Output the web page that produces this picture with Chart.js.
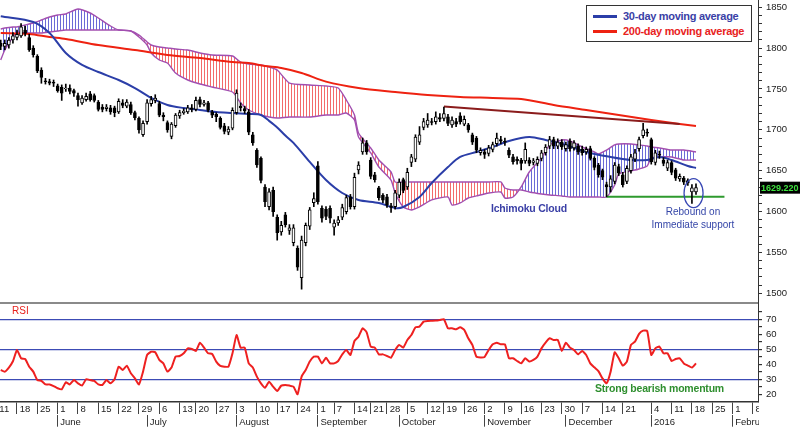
<!DOCTYPE html>
<html lang="en">
<head>
<meta charset="UTF-8" />
<title>Price, Ichimoku Cloud and RSI</title>
<script src="https://cdn.jsdelivr.net/npm/chart.js"></script>
<style>
  body { margin: 0; background: #fff; overflow: hidden; font-family: Arial, "Liberation Sans", sans-serif; }
  .wrap { position: relative; width: 800px; height: 427px; }
  .legend { position: absolute; left: 586px; top: 5px; width: 164px; height: 35px; border: 1px solid #333; background: #fff; }
  .legend .row { position: absolute; left: 0; height: 14px; font-weight: bold; font-size: 11px; letter-spacing: -0.3px; white-space: nowrap; }
  .legend .swatch { position: absolute; left: 6px; width: 24px; height: 2.5px; top: 6px; }
  .legend .txt { position: absolute; left: 36px; top: 0; line-height: 14px; }
  .note { position: absolute; white-space: nowrap; }
</style>
</head>
<body>
<div class="wrap">
  <canvas id="chart" width="800" height="427"></canvas>

  <div class="legend">
    <div class="row" style="top:3px;color:#3a3fa6"><span class="swatch" style="background:#2b3ea8"></span><span class="txt">30-day moving average</span></div>
    <div class="row" style="top:18px;color:#e8221d"><span class="swatch" style="background:#ee2211"></span><span class="txt">200-day moving average</span></div>
  </div>

  <div class="note" style="left:12px;top:305px;font-size:10px;color:#e8221d">RSI</div>
  <div class="note" style="left:491px;top:202px;font-size:10.5px;font-weight:bold;letter-spacing:-0.2px;color:#3a3fa6">Ichimoku Cloud</div>
  <div class="note" style="left:643px;top:206px;width:100px;text-align:center;font-size:10px;line-height:12.5px;color:#3546a8">Rebound on<br>Immediate support</div>
  <div class="note" style="left:595px;top:382px;font-size:10.5px;font-weight:bold;letter-spacing:-0.2px;color:#2f8f2f">Strong bearish momentum</div>
</div>

<script>
// trading day index 0 = Mon 11 May 2015, one step per session
const firstDay = 1;

const openP = [
  1806,1802,1804,1810,1813,1815,1822,1813,1800,1790,
  1773,1760,1759,1758,1754,1752,1750,1751,1748,1742,
  1733,1737,1744,1742,1734,1728,1726,1727,1727,1722,
  1733,1729,1731,1721,1714,1694,1710,1732,1736,1732,
  1718,1709,1692,1705,1717,1721,1722,1727,1725,1737,
  1731,1733,1722,1719,1714,1705,1697,1702,1721,1729,
  1726,1722,1694,1675,1665,1630,1606,1626,1593,1575,
  1596,1577,1562,1555,1519,1562,1582,1611,1656,1604,
  1603,1604,1581,1586,1593,1600,1618,1606,1651,1673,
  1684,1663,1645,1629,1620,1618,1607,1606,1620,1639,
  1630,1660,1664,1685,1703,1706,1710,1710,1715,1714,
  1716,1706,1710,1717,1707,1706,1694,1690,1672,1673,
  1671,1676,1683,1688,1686,1675,1667,1664,1663,1662,
  1663,1660,1659,1665,1672,1680,1688,1680,1685,1677,
  1686,1678,1680,1676,1673,1677,1665,1657,1650,1633,
  1630,1637,1655,1645,1637,1650,1664,1677,1693,1697,
  1688,1660,1670,1663,1653,1660,1651,1640,1641,1638,
  1624,1624
];
const highP = [
  1810,1810,1813,1819,1822,1830,1827,1817,1803,1792,
  1776,1763,1762,1761,1756,1755,1756,1755,1750,1745,
  1742,1745,1747,1744,1736,1731,1731,1730,1729,1738,
  1737,1737,1734,1723,1716,1711,1737,1741,1743,1735,
  1721,1711,1709,1720,1724,1726,1730,1731,1740,1740,
  1736,1735,1724,1721,1716,1708,1704,1727,1749,1733,
  1729,1725,1697,1677,1667,1633,1628,1630,1596,1588,
  1599,1584,1584,1558,1570,1586,1605,1623,1661,1607,
  1606,1607,1590,1594,1609,1620,1621,1647,1661,1690,
  1687,1666,1648,1631,1622,1621,1610,1626,1640,1641,
  1653,1670,1694,1704,1714,1720,1714,1722,1720,1728,
  1719,1716,1714,1721,1717,1708,1696,1692,1678,1676,
  1681,1685,1696,1692,1690,1678,1670,1667,1665,1684,
  1666,1665,1667,1675,1682,1692,1691,1689,1688,1685,
  1689,1687,1683,1680,1679,1680,1667,1659,1652,1636,
  1644,1660,1658,1648,1656,1670,1676,1691,1708,1701,
  1690,1675,1674,1666,1663,1662,1653,1646,1643,1640,
  1633,1634
];
const lowP = [
  1798,1798,1800,1806,1810,1813,1815,1796,1789,1770,
  1757,1756,1755,1753,1746,1736,1747,1744,1741,1729,
  1731,1735,1735,1734,1723,1722,1723,1719,1716,1720,
  1727,1727,1719,1712,1696,1692,1707,1729,1733,1716,
  1711,1697,1689,1703,1714,1719,1720,1722,1723,1728,
  1729,1722,1715,1710,1701,1695,1694,1700,1719,1723,
  1720,1694,1681,1654,1635,1606,1602,1594,1565,1571,
  1581,1572,1558,1528,1505,1558,1578,1606,1609,1587,
  1590,1586,1571,1583,1590,1597,1603,1603,1646,1670,
  1670,1640,1636,1614,1611,1605,1599,1603,1617,1623,
  1627,1655,1661,1682,1700,1703,1706,1707,1710,1711,
  1705,1703,1704,1707,1705,1697,1682,1672,1669,1665,
  1668,1673,1680,1683,1681,1666,1658,1658,1651,1659,
  1656,1657,1656,1662,1669,1677,1677,1677,1676,1674,
  1674,1675,1670,1669,1670,1663,1651,1642,1639,1618,
  1624,1634,1644,1630,1634,1647,1661,1674,1690,1692,
  1658,1657,1665,1656,1650,1645,1638,1637,1633,1632,
  1610,1621
];
const closeP = [
  1802,1806,1810,1815,1817,1826,1818,1798,1792,1772,
  1764,1759,1757,1757,1748,1745,1751,1747,1745,1737,
  1739,1741,1737,1736,1725,1725,1728,1722,1721,1735,
  1730,1734,1721,1715,1700,1708,1733,1737,1739,1718,
  1716,1700,1707,1718,1721,1723,1727,1725,1736,1731,
  1733,1724,1718,1716,1703,1698,1701,1724,1745,1727,
  1723,1697,1684,1657,1638,1612,1624,1600,1574,1583,
  1584,1580,1580,1532,1565,1583,1602,1616,1612,1592,
  1594,1592,1586,1590,1605,1617,1606,1642,1657,1684,
  1673,1643,1639,1617,1614,1608,1605,1623,1636,1626,
  1648,1667,1691,1694,1710,1712,1709,1716,1713,1720,
  1708,1712,1707,1710,1713,1700,1685,1675,1675,1670,
  1678,1682,1690,1686,1685,1669,1661,1662,1659,1676,
  1659,1662,1664,1672,1679,1688,1680,1685,1679,1682,
  1677,1684,1673,1672,1676,1665,1654,1645,1642,1630,
  1640,1657,1647,1633,1653,1667,1672,1688,1700,1696,
  1661,1672,1669,1659,1660,1648,1641,1643,1636,1635,
  1629,1629.22
];

const rsi = [
  36.2,35.1,37.8,42,49.5,44,43.5,38.4,35.1,29.5,
  28.9,26.6,26.6,25.5,24,23.3,28,26.6,29.5,27.3,
  25.8,30,29.5,28.9,26.6,26.2,29.5,27.3,30,38.4,
  36.2,39.1,34,30.6,26.6,35.1,46.2,48.4,48,42.9,
  40.6,35.1,37.8,45.1,45.5,47.3,50.6,50.2,48.9,54.4,
  51.1,47.3,46.9,41.8,38.9,38.4,38.4,47.3,59.5,51.1,
  51.1,40.6,37.8,31.8,27.3,24.4,28.4,25.1,22.2,25.8,
  26.2,25.8,25.1,20,31.8,36.2,41.8,45.1,45.1,40.6,
  44.4,40.6,40.6,42.2,46.6,49.5,46.2,55.5,58.4,64,
  61.3,51.8,51.1,46.6,46.6,45.5,44.4,49.5,52.9,51.1,
  56.2,59.5,64.6,65.1,68.4,68.9,69,69.1,69.5,70,
  64,64,63.3,64.6,62.9,57.3,52.9,45.1,44.6,44.9,
  49.5,53.3,54.4,53.3,53.3,44,44,42.2,40.6,44,
  41.8,42.9,45.1,50.6,54.4,57.3,56.2,56.2,48.9,54.4,
  51.1,49.5,46.6,48.9,46.2,40.6,38,35.5,30.6,27.3,
  35.1,48,44,39.1,41.8,52.9,55.1,60.2,62.4,62.2,
  46.2,50.6,51.8,47.3,47.3,42.2,43.5,44,40.6,39.1,
  37.8,40.6
];

const ma30Idx = [1,9,13,17,21,25,30,34,38,42,46,50,54,58,62,65,67,69,71,73,77,81,85,89,94,98,100,104,107,111,114,118,122,126,131,135,140,145,151,156,160,163,166,170,172];
const ma30Val = [1839,1832,1818.5,1794,1779.4,1770.8,1761,1751.2,1739,1730.4,1726.7,1724.3,1721.8,1720.6,1719.4,1718.2,1711,1703,1693,1684,1660.7,1638.6,1622.7,1614.2,1610.5,1604.4,1605.6,1617.8,1635,1654.5,1666.8,1672.9,1679,1686.4,1691.3,1687.6,1681.5,1672.9,1666.8,1663.1,1663.1,1666.8,1663.1,1655.8,1653.3];

const ma200Idx = [1,8,13,17,25,34,42,50,58,62,66,70,75,81,89,98,106,114,122,129,137,145,153,161,168,172];
const ma200Val = [1818.5,1817.3,1813.6,1811.2,1803.8,1797.7,1791.6,1787.9,1783,1781.8,1778.1,1775.7,1769.6,1759,1751.2,1746.3,1742.6,1740.2,1739,1737.7,1730.4,1724.3,1718.2,1712.1,1707.2,1704.7];

const cloudIdx = [1,2,4,5,7,9,11,13,15,17,20,23,25,28,30,33,35,37,38,40,42,44,47,50,53,58,60,62,65,67,69,72,77,81,84,86,88,89,92,94,97,98,100,102,104,107,111,112,114,116,118,121,124,125,127,129,131,134,136,139,141,144,147,148,150,152,153,156,158,160,161,163,166,169,172];
const spanA = [1823.4,1824.6,1825.9,1825.9,1828.3,1830.8,1834.4,1838.1,1840.5,1841.8,1847.9,1843.0,1836.9,1827.1,1822.2,1821.0,1813.6,1803.8,1794.1,1785.5,1781.8,1769.6,1761.0,1756.1,1752.4,1746.3,1732.9,1724.3,1718.2,1715.7,1714.5,1715.7,1715.7,1718.2,1718.2,1720.6,1712.1,1691.3,1671.7,1654.5,1638.6,1622.7,1605.6,1601.9,1605.6,1614.2,1617.8,1608.0,1610.5,1616.6,1619.1,1622.7,1623.9,1616.6,1617.8,1630.1,1648.4,1665.6,1681.5,1687.6,1686.4,1679.0,1672.9,1670.4,1675.3,1681.5,1682.7,1682.7,1681.5,1680.2,1679.0,1677.8,1675.3,1675.3,1672.9];
const spanB = [1785.5,1797.7,1813.6,1819.7,1818.5,1818.5,1818.5,1819.7,1821.0,1822.2,1822.2,1822.2,1822.2,1822.2,1822.2,1821.0,1816.1,1807.5,1803.8,1801.4,1800.2,1798.9,1797.7,1794.1,1791.6,1790.4,1783.0,1780.6,1779.4,1776.9,1773.2,1757.3,1754.9,1753.7,1751.2,1736.5,1718.2,1696.1,1677.8,1663.1,1648.4,1636.2,1636.2,1636.2,1636.2,1636.2,1636.2,1636.2,1636.2,1636.2,1636.2,1636.2,1636.2,1628.8,1626.4,1626.4,1623.9,1621.5,1620.3,1619.1,1617.8,1617.8,1617.8,1617.8,1617.8,1632.5,1646.0,1649.6,1652.1,1655.8,1665.6,1666.8,1666.8,1663.1,1663.1];

const trendIdx = [110, 168];
const trendVal = [1728.5, 1707];
const supportIdx = [150, 179];
const supportVal = [1618.2, 1618.2];
const reboundAt = [171.4, 1622.5];

// axis labels
const weekIdx = [0,5,10,15,20,25,30,35,40,45,49,54,59,64,69,74,79,83,88,92,96,101,106,110,115,120,125,129,134,139,144,149,154,161,166,171,176,181,186];
const weekLbl = ['11','18','25','1','8','15','22','29','6','13','20','27','3','10','17','24','1','7','14','21','28','5','12','19','26','2','9','16','23','30','7','14','21','4','11','18','25','1','8'];
const monthIdx = [15,37,59,79,99,120,140,161,181];
const monthLbl = ['June','July','August','September','October','November','December','2016','February'];
const priceTicks = [];
for (let v = 1500; v <= 1850; v += 10) priceTicks.push(v);
const rsiTicks = [20,25,30,35,40,45,50,55,60,65,70,75];

const X_MIN = 0.82, X_MAX = 187.25;
const lastPrice = closeP[closeP.length - 1];

const FONT = 'Arial, "Liberation Sans", sans-serif';
Chart.defaults.font.family = FONT;

function hatch(color) {
  const c = document.createElement('canvas');
  c.width = 3; c.height = 4;
  const g = c.getContext('2d');
  g.fillStyle = color;
  g.fillRect(0, 0, 1, 4);
  return g.createPattern(c, 'repeat');
}
const blueHatch = hatch('rgba(70,70,205,0.8)');
const redHatch = hatch('rgba(240,70,70,0.8)');

const pts = (xs, ys) => xs.map((x, k) => ({x: x, y: ys[k]}));

const panelDecor = {
  id: 'panelDecor',
  afterDraw(chart) {
    const {ctx, chartArea} = chart;
    const x = chart.scales.x, y = chart.scales.y, yr = chart.scales.yr;
    ctx.save();
    // date strip stops at the right edge of the plot
    ctx.fillStyle = '#fff';
    ctx.fillRect(chartArea.right + 1, chartArea.bottom + 1, chart.width - chartArea.right, chart.height - chartArea.bottom);
    // grey separator between the panels
    ctx.strokeStyle = '#8a8a8a';
    ctx.lineWidth = 2;
    ctx.beginPath();
    ctx.moveTo(chartArea.left, yr.top + 1);
    ctx.lineTo(chartArea.right, yr.top + 1);
    ctx.stroke();
    // circle round the rebound
    ctx.strokeStyle = '#3a49b5';
    ctx.lineWidth = 1.3;
    ctx.beginPath();
    ctx.ellipse(x.getPixelForValue(reboundAt[0]), y.getPixelForValue(reboundAt[1]), 9.5, 14.5, 0, 0, Math.PI * 2);
    ctx.stroke();
    // last price tag
    const py = y.getPixelForValue(lastPrice);
    ctx.fillStyle = '#000';
    ctx.fillRect(chartArea.right + 2, py - 6, chart.width - chartArea.right - 2, 12);
    ctx.fillStyle = '#3fe03f';
    ctx.font = 'bold 9px ' + FONT;
    ctx.textBaseline = 'middle';
    ctx.textAlign = 'left';
    ctx.fillText(lastPrice.toFixed(3), chartArea.right + 3, py + 0.5);
    ctx.restore();
  }
};

new Chart(document.getElementById('chart'), {
  type: 'line',
  data: {
    datasets: [
      {
        label: 'Span A', data: pts(cloudIdx, spanA), yAxisID: 'y',
        borderColor: '#a24fb0', borderWidth: 1.4, pointRadius: 0, tension: 0.2,
        fill: {target: '+1', above: blueHatch, below: redHatch}, order: 10
      },
      {
        label: 'Span B', data: pts(cloudIdx, spanB), yAxisID: 'y',
        borderColor: '#a24fb0', borderWidth: 1.4, pointRadius: 0, tension: 0.2,
        fill: false, order: 9
      },
      {
        label: '200-day moving average', data: pts(ma200Idx, ma200Val), yAxisID: 'y',
        borderColor: '#ee2211', borderWidth: 2, pointRadius: 0, tension: 0.3, order: 8
      },
      {
        label: '30-day moving average', data: pts(ma30Idx, ma30Val), yAxisID: 'y',
        borderColor: '#2b3ea8', borderWidth: 2, pointRadius: 0, tension: 0.3, order: 7
      },
      {
        label: 'Resistance', data: pts(trendIdx, trendVal), yAxisID: 'y',
        borderColor: '#8b1c1c', borderWidth: 2, pointRadius: 0, order: 6
      },
      {
        label: 'Support', data: pts(supportIdx, supportVal), yAxisID: 'y',
        borderColor: '#2e9a2e', borderWidth: 2, pointRadius: 0, order: 5
      },
      {
        type: 'bar', label: 'Range', yAxisID: 'y',
        data: highP.map((h, k) => ({x: firstDay + k, y: [lowP[k], h]})),
        backgroundColor: '#000', borderWidth: 0, barThickness: 1, grouped: false, order: 2
      },
      {
        type: 'bar', label: 'Body', yAxisID: 'y',
        data: closeP.map((c, k) => ({x: firstDay + k, y: [openP[k], c]})),
        backgroundColor: closeP.map((c, k) => c >= openP[k] ? '#ffffff' : '#000000'),
        borderColor: '#000', borderWidth: 1, borderSkipped: false,
        barThickness: 3, grouped: false, order: 1
      },
      {
        label: 'RSI', data: rsi.map((v, k) => ({x: firstDay + k, y: v})), yAxisID: 'yr',
        borderColor: '#ee2020', borderWidth: 2, pointRadius: 0, tension: 0.15, order: 5
      }
    ]
  },
  options: {
    responsive: false,
    animation: false,
    layout: {padding: 0},
    plugins: {legend: {display: false}, tooltip: {enabled: false}},
    scales: {
      x: {
        type: 'linear', position: 'bottom', min: X_MIN, max: X_MAX, offset: false,
        afterBuildTicks: s => { s.ticks = weekIdx.map(v => ({value: v})); },
        afterFit: s => { s.height = 12.7; s.paddingLeft = 0; s.paddingRight = 0; },
        ticks: {
          autoSkip: false, maxRotation: 0, minRotation: 0, align: 'start', padding: -10.5,
          color: '#222', font: {size: 9.5},
          callback: (v, i) => ' ' + weekLbl[i]
        },
        grid: {drawOnChartArea: false, drawTicks: true, tickLength: 12, color: '#444', lineWidth: 1, offset: false},
        border: {display: true, color: '#333', width: 1.5}
      },
      xm: {
        type: 'linear', position: 'bottom', min: X_MIN, max: X_MAX, offset: false,
        afterBuildTicks: s => { s.ticks = monthIdx.map(v => ({value: v})); },
        afterFit: s => { s.height = 12.3; s.paddingLeft = 0; s.paddingRight = 0; },
        ticks: {
          autoSkip: false, maxRotation: 0, minRotation: 0, align: 'start', padding: -10.5,
          color: '#222', font: {size: 9.5},
          callback: (v, i) => ' ' + monthLbl[i]
        },
        grid: {drawOnChartArea: false, drawTicks: true, tickLength: 12, color: '#444', lineWidth: 1, offset: false},
        border: {display: false}
      },
      y: {
        type: 'linear', position: 'right', stack: 'panels', stackWeight: 302,
        min: 1489.3, max: 1858.9, beginAtZero: false,
        afterBuildTicks: s => { s.ticks = priceTicks.map(v => ({value: v})); },
        afterFit: s => { s.width = 42; s.paddingTop = 0; s.paddingBottom = 0; },
        ticks: {
          autoSkip: false, padding: 4, color: '#222', font: {size: 9.5},
          callback: v => v % 50 === 0 ? String(v) : ''
        },
        grid: {drawOnChartArea: false, drawTicks: true, tickLength: 4, color: '#333'},
        border: {display: true, color: '#333', width: 1}
      },
      yr: {
        type: 'linear', position: 'right', stack: 'panels', stackWeight: 100,
        min: 14.87, max: 81.5, beginAtZero: false,
        afterBuildTicks: s => { s.ticks = rsiTicks.map(v => ({value: v})); },
        afterFit: s => { s.width = 42; s.paddingTop = 0; s.paddingBottom = 0; },
        ticks: {
          autoSkip: false, padding: 4, color: '#222', font: {size: 9.5},
          callback: v => v % 10 === 0 ? String(v) : ''
        },
        grid: {
          drawOnChartArea: true, drawTicks: true, tickLength: 4, lineWidth: 1.2,
          color: c => (c.tick && [30, 50, 70].includes(c.tick.value)) ? '#3c4bb5' : 'rgba(0,0,0,0)',
          tickColor: '#333'
        },
        border: {display: true, color: '#333', width: 1}
      }
    }
  },
  plugins: [panelDecor]
});
</script>
</body>
</html>
